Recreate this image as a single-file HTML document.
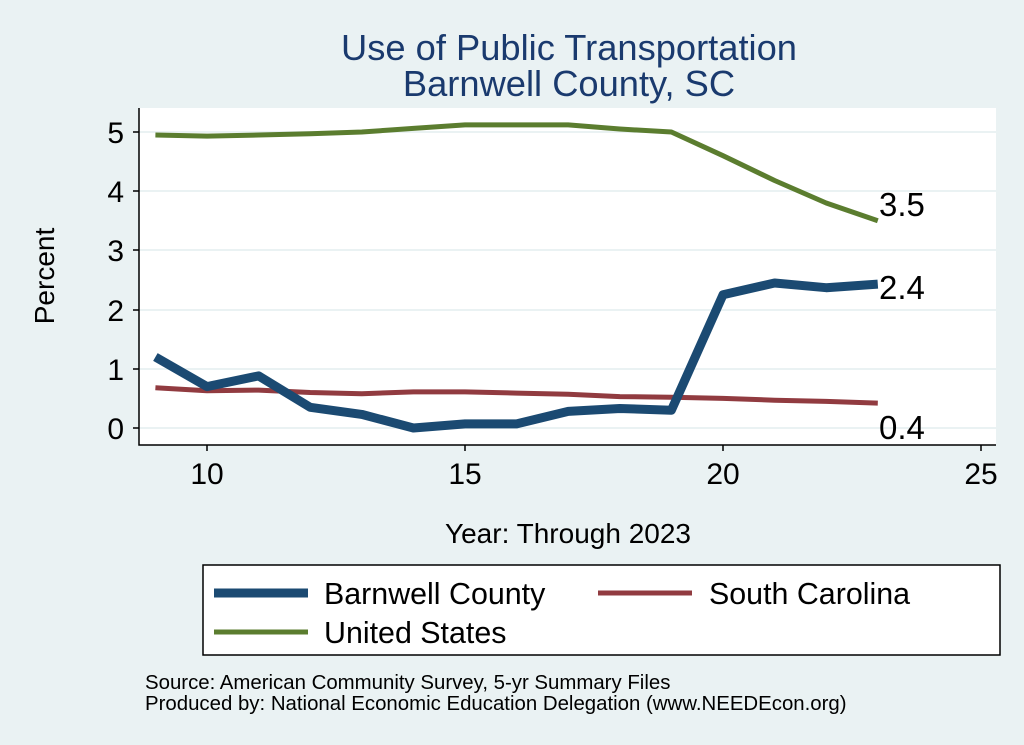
<!DOCTYPE html>
<html><head><style>
body{margin:0;background:#eaf2f3;}
svg{display:block;font-family:"Liberation Sans",sans-serif;}
</style></head><body>
<svg width="1024" height="745" viewBox="0 0 1024 745">
<rect width="1024" height="745" fill="#eaf2f3"/>
<rect x="139" y="108" width="857" height="337" fill="#fff"/>
<g stroke="#eaf2f3" stroke-width="2">
<line x1="139" x2="996" y1="428" y2="428"/><line x1="139" x2="996" y1="369" y2="369"/>
<line x1="139" x2="996" y1="310" y2="310"/><line x1="139" x2="996" y1="250" y2="250"/>
<line x1="139" x2="996" y1="191" y2="191"/><line x1="139" x2="996" y1="132" y2="132"/>
</g>
<g stroke="#000" stroke-width="1.5" fill="none">
<polyline points="139,108 139,445 996,445"/>
<line x1="133" x2="139" y1="428" y2="428"/><line x1="133" x2="139" y1="369" y2="369"/>
<line x1="133" x2="139" y1="310" y2="310"/><line x1="133" x2="139" y1="250" y2="250"/>
<line x1="133" x2="139" y1="191" y2="191"/><line x1="133" x2="139" y1="132" y2="132"/>
<line x1="207" x2="207" y1="445" y2="451"/><line x1="465" x2="465" y1="445" y2="451"/>
<line x1="723" x2="723" y1="445" y2="451"/><line x1="981" x2="981" y1="445" y2="451"/>
</g>
<g font-size="30" text-anchor="end" fill="#000">
<text x="124" y="439">0</text><text x="124" y="380">1</text><text x="124" y="321">2</text>
<text x="124" y="261">3</text><text x="124" y="202">4</text><text x="124" y="143">5</text>
</g>
<g font-size="30" text-anchor="middle">
<text x="207" y="484">10</text><text x="465" y="484">15</text><text x="723" y="484">20</text><text x="981" y="484">25</text>
</g>
<text x="569" y="60" font-size="36.3" fill="#1a3a6e" text-anchor="middle">Use of Public Transportation</text>
<text x="569" y="96" font-size="36.3" fill="#1a3a6e" text-anchor="middle">Barnwell County, SC</text>
<text transform="translate(54,276) rotate(-90)" font-size="28" text-anchor="middle">Percent</text>
<text x="568" y="543" font-size="28" text-anchor="middle">Year: Through 2023</text>
<polyline fill="none" stroke="#5b7d2f" stroke-width="5" stroke-linejoin="round" points="155.4,135 207,136.1 258.6,135 310.2,133.8 361.8,132 413.4,128.4 465,124.9 516.6,124.9 568.2,124.9 619.8,129 671.4,132 723,155.7 774.6,180.5 826.2,203 877.8,220.8"/>
<polyline fill="none" stroke="#913b40" stroke-width="5" stroke-linejoin="round" points="155.4,387.7 207,390.7 258.6,390.1 310.2,392.5 361.8,393.7 413.4,391.9 465,391.9 516.6,393.1 568.2,394.3 619.8,396.6 671.4,397.2 723,398.4 774.6,400.2 826.2,401.4 877.8,403.1"/>
<polyline fill="none" stroke="#1b4a72" stroke-width="9" stroke-linejoin="round" points="155.4,357 207,386.6 258.6,375.9 310.2,407.3 361.8,414.4 413.4,428 465,423.9 516.6,423.9 568.2,411.4 619.8,408.5 671.4,410.2 723,294.8 774.6,283 826.2,287.7 877.8,284.1"/>
<g font-size="33"><text x="879" y="216">3.5</text><text x="879" y="299">2.4</text><text x="879" y="439">0.4</text></g>
<rect x="203" y="565" width="797" height="90" fill="#fff" stroke="#000" stroke-width="1.5"/>
<line x1="214" x2="308" y1="593" y2="593" stroke="#1b4a72" stroke-width="9"/>
<text x="324" y="604" font-size="30.4">Barnwell County</text>
<line x1="598" x2="692" y1="593" y2="593" stroke="#913b40" stroke-width="5"/>
<text x="709" y="604" font-size="30.4">South Carolina</text>
<line x1="214" x2="308" y1="632" y2="632" stroke="#5b7d2f" stroke-width="5"/>
<text x="324" y="643" font-size="30.4">United States</text>
<text x="145" y="689" font-size="20.4">Source: American Community Survey, 5-yr Summary Files</text>
<text x="145" y="710" font-size="20.4">Produced by: National Economic Education Delegation (www.NEEDEcon.org)</text>
</svg>
</body></html>
